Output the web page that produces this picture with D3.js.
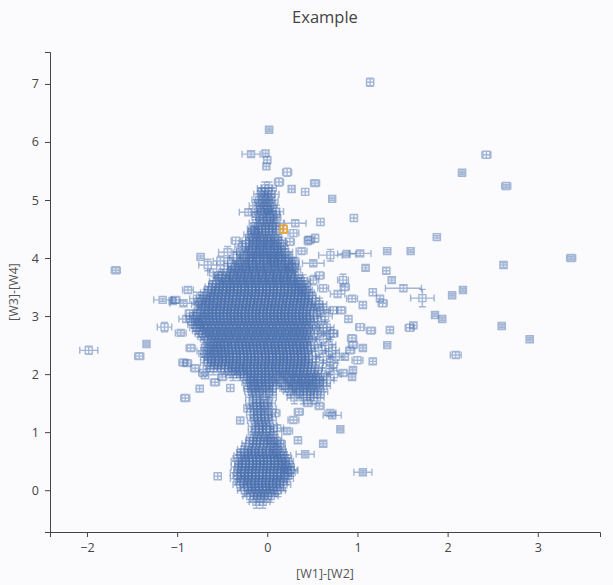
<!DOCTYPE html>
<html><head><meta charset="utf-8">
<script src="https://cdn.jsdelivr.net/npm/d3@7"></script>
<style>
body{margin:0;background:#fbfbfd;}
svg{display:block;font-family:"Open Sans","Noto Sans",sans-serif;}
</style>
</head><body><svg id="c" width="613" height="585"></svg>
<script>
const titleText = "Example";
const xLabel = "[W1]-[W2]";
const yLabel = "[W3]-[W4]";
const xTicks = [-2, -1, 0, 1, 2, 3];
const yTicks = [0, 1, 2, 3, 4, 5, 6, 7];

// dense region: rows of [y, [x values]] with a shared typical error [ex, ey]
const coreErr = [0.08, 0.11];
const coreRows = [
 [5.2, [-0.03, 0.02]],
 [5.1, [-0.07, 0.0, 0.05]],
 [5.0, [-0.09, -0.02, 0.04]],
 [4.9, [-0.12, -0.04, 0.03]],
 [4.8, [-0.1, -0.03, 0.05, 0.1]],
 [4.7, [-0.09, -0.01, 0.07]],
 [4.6, [-0.12, -0.04, 0.04, 0.1]],
 [4.5, [-0.14, -0.06, 0.02, 0.09]],
 [4.4, [-0.18, -0.1, -0.02, 0.06]],
 [4.3, [-0.2, -0.12, -0.04, 0.04, 0.12]],
 [4.2, [-0.2, -0.12, -0.04, 0.04, 0.12]],
 [4.1, [-0.3, -0.2, -0.12, -0.04, 0.04, 0.12, 0.2]],
 [4.0, [-0.34, -0.24, -0.16, -0.08, 0.0, 0.08, 0.16, 0.24]],
 [3.9, [-0.4, -0.3, -0.21, -0.13, -0.05, 0.03, 0.11, 0.19, 0.27]],
 [3.8, [-0.44, -0.35, -0.27, -0.19, -0.11, -0.03, 0.05, 0.13, 0.21, 0.29]],
 [3.7, [-0.5, -0.41, -0.33, -0.25, -0.17, -0.09, -0.01, 0.07, 0.15, 0.23, 0.31]],
 [3.6, [-0.56, -0.47, -0.39, -0.31, -0.23, -0.15, -0.07, 0.01, 0.09, 0.17, 0.25, 0.33, 0.4]],
 [3.5, [-0.61, -0.53, -0.45, -0.37, -0.29, -0.21, -0.13, -0.05, 0.03, 0.11, 0.19, 0.27, 0.34, 0.4]],
 [3.4, [-0.66, -0.58, -0.5, -0.41, -0.33, -0.25, -0.17, -0.09, -0.01, 0.07, 0.15, 0.23, 0.31, 0.38, 0.44]],
 [3.3, [-0.78, -0.71, -0.63, -0.55, -0.46, -0.38, -0.3, -0.22, -0.14, -0.06, 0.02, 0.1, 0.18, 0.26, 0.34, 0.42, 0.5]],
 [3.2, [-0.76, -0.68, -0.6, -0.51, -0.43, -0.35, -0.27, -0.19, -0.11, -0.03, 0.05, 0.13, 0.21, 0.29, 0.37, 0.45, 0.53, 0.58]],
 [3.1, [-0.73, -0.65, -0.56, -0.48, -0.4, -0.32, -0.24, -0.16, -0.08, 0.0, 0.08, 0.16, 0.24, 0.32, 0.4, 0.48, 0.55, 0.62]],
 [3.0, [-0.78, -0.7, -0.61, -0.53, -0.45, -0.37, -0.29, -0.21, -0.13, -0.05, 0.03, 0.11, 0.19, 0.27, 0.35, 0.43, 0.51, 0.64]],
 [2.9, [-0.8, -0.72, -0.64, -0.56, -0.48, -0.4, -0.32, -0.24, -0.16, -0.08, 0.0, 0.08, 0.16, 0.24, 0.32, 0.4, 0.48, 0.56]],
 [2.8, [-0.78, -0.7, -0.62, -0.54, -0.46, -0.38, -0.3, -0.22, -0.14, -0.06, 0.02, 0.1, 0.18, 0.26, 0.34, 0.42, 0.58, 0.66]],
 [2.7, [-0.72, -0.64, -0.56, -0.48, -0.4, -0.32, -0.24, -0.16, -0.08, 0.0, 0.08, 0.16, 0.24, 0.32, 0.4, 0.48, 0.56, 0.7]],
 [2.6, [-0.66, -0.58, -0.5, -0.42, -0.34, -0.26, -0.18, -0.1, -0.02, 0.06, 0.14, 0.22, 0.3, 0.38, 0.46, 0.62]],
 [2.5, [-0.6, -0.52, -0.44, -0.36, -0.28, -0.2, -0.12, -0.04, 0.04, 0.12, 0.2, 0.28, 0.36, 0.44, 0.52, 0.68]],
 [2.4, [-0.7, -0.63, -0.55, -0.47, -0.39, -0.31, -0.23, -0.15, -0.07, 0.01, 0.09, 0.17, 0.25, 0.33, 0.41, 0.57, 0.72]],
 [2.3, [-0.66, -0.58, -0.5, -0.42, -0.34, -0.26, -0.18, -0.1, -0.02, 0.06, 0.14, 0.22, 0.3, 0.38, 0.46, 0.62, 0.76]],
 [2.2, [-0.66, -0.58, -0.5, -0.42, -0.34, -0.26, -0.18, -0.1, -0.02, 0.06, 0.14, 0.22, 0.3, 0.38, 0.46, 0.54, 0.7]],
 [2.1, [-0.6, -0.51, -0.43, -0.35, -0.27, -0.19, -0.11, -0.03, 0.05, 0.13, 0.21, 0.29, 0.37, 0.45, 0.53, 0.69]],
 [2.0, [-0.38, -0.3, -0.22, -0.14, -0.06, 0.02, 0.1, 0.2, 0.28, 0.36, 0.44, 0.52, 0.6, 0.74]],
 [1.9, [-0.19, -0.11, -0.03, 0.06, 0.16, 0.26, 0.34, 0.42, 0.5, 0.58, 0.66]],
 [1.8, [-0.18, -0.1, -0.02, 0.06, 0.2, 0.3, 0.38, 0.46, 0.54, 0.62]],
 [1.7, [-0.17, -0.09, 0.02, 0.26, 0.36, 0.44, 0.52, 0.59]],
 [1.6, [-0.16, -0.08, 0.02, 0.3, 0.4, 0.48, 0.55]],
 [1.5, [-0.16, -0.08, 0.01]],
 [1.4, [-0.15, -0.07, 0.02]],
 [1.3, [-0.15, -0.07, 0.01]],
 [1.2, [-0.14, -0.06, 0.02]],
 [1.1, [-0.13, -0.05, 0.03]],
 [1.0, [-0.13, -0.05, 0.03]],
 [0.9, [-0.15, -0.07, 0.02, 0.08]],
 [0.8, [-0.2, -0.12, -0.04, 0.04, 0.1]],
 [0.7, [-0.25, -0.17, -0.09, -0.01, 0.07, 0.12]],
 [0.6, [-0.29, -0.21, -0.13, -0.05, 0.03, 0.11, 0.18]],
 [0.5, [-0.32, -0.24, -0.16, -0.08, 0.0, 0.08, 0.16, 0.21]],
 [0.4, [-0.32, -0.24, -0.16, -0.08, 0.0, 0.08, 0.16, 0.22]],
 [0.3, [-0.33, -0.25, -0.17, -0.09, -0.01, 0.07, 0.15, 0.23]],
 [0.2, [-0.33, -0.25, -0.17, -0.09, -0.01, 0.07, 0.15, 0.21]],
 [0.1, [-0.3, -0.22, -0.14, -0.06, 0.02, 0.1, 0.18]],
 [0.0, [-0.25, -0.17, -0.09, -0.01, 0.07, 0.12]],
 [-0.1, [-0.19, -0.11, -0.03, 0.04]],
 [-0.2, [-0.12, -0.05]]
];
// dense region, second pass between the rows above
const coreRowsMid = [
 [4.95, [-0.06, 0.01]],
 [4.75, [-0.08, 0.0, 0.06]],
 [4.55, [-0.1, -0.02, 0.06]],
 [4.35, [-0.16, -0.08, 0.0, 0.08]],
 [4.25, [-0.2, -0.1, -0.02, 0.06, 0.14]],
 [4.15, [-0.17, -0.09, -0.01, 0.07, 0.15]],
 [4.05, [-0.22, -0.14, -0.06, 0.02, 0.1, 0.18]],
 [3.95, [-0.3, -0.2, -0.12, -0.04, 0.04, 0.12, 0.2]],
 [3.85, [-0.36, -0.28, -0.2, -0.12, -0.04, 0.04, 0.12, 0.2, 0.27]],
 [3.75, [-0.41, -0.33, -0.25, -0.17, -0.09, -0.01, 0.07, 0.15, 0.23]],
 [3.65, [-0.5, -0.42, -0.34, -0.26, -0.18, -0.1, -0.02, 0.06, 0.14, 0.22, 0.3]],
 [3.55, [-0.57, -0.49, -0.41, -0.33, -0.25, -0.17, -0.09, -0.01, 0.07, 0.15, 0.23, 0.31, 0.38]],
 [3.45, [-0.62, -0.54, -0.46, -0.37, -0.29, -0.21, -0.13, -0.05, 0.03, 0.11, 0.19, 0.27, 0.35, 0.42]],
 [3.35, [-0.68, -0.6, -0.51, -0.42, -0.34, -0.26, -0.18, -0.1, -0.02, 0.06, 0.14, 0.22, 0.3, 0.38, 0.46]],
 [3.25, [-0.73, -0.65, -0.56, -0.47, -0.39, -0.31, -0.23, -0.15, -0.07, 0.01, 0.09, 0.17, 0.25, 0.33, 0.41]],
 [3.15, [-0.7, -0.61, -0.52, -0.44, -0.36, -0.28, -0.2, -0.12, -0.04, 0.04, 0.12, 0.2, 0.28, 0.36, 0.44]],
 [3.05, [-0.75, -0.66, -0.57, -0.49, -0.41, -0.33, -0.25, -0.17, -0.09, -0.01, 0.07, 0.15, 0.23, 0.31, 0.39]],
 [2.95, [-0.82, -0.76, -0.68, -0.6, -0.52, -0.44, -0.36, -0.28, -0.2, -0.12, -0.04, 0.04, 0.12, 0.2, 0.28, 0.36, 0.44]],
 [2.85, [-0.8, -0.74, -0.66, -0.58, -0.5, -0.42, -0.34, -0.26, -0.18, -0.1, -0.02, 0.06, 0.14, 0.22, 0.3, 0.38, 0.46]],
 [2.75, [-0.75, -0.68, -0.6, -0.52, -0.44, -0.36, -0.28, -0.2, -0.12, -0.04, 0.04, 0.12, 0.2, 0.28, 0.36, 0.44]],
 [2.65, [-0.69, -0.62, -0.54, -0.46, -0.38, -0.3, -0.22, -0.14, -0.06, 0.02, 0.1, 0.18, 0.26, 0.34, 0.42]],
 [2.55, [-0.63, -0.56, -0.48, -0.4, -0.32, -0.24, -0.16, -0.08, 0.0, 0.08, 0.16, 0.24, 0.32, 0.4]],
 [2.45, [-0.65, -0.58, -0.51, -0.43, -0.35, -0.27, -0.19, -0.11, -0.03, 0.05, 0.13, 0.21, 0.29, 0.37, 0.45]],
 [2.35, [-0.68, -0.6, -0.52, -0.46, -0.38, -0.3, -0.22, -0.14, -0.06, 0.02, 0.1, 0.18, 0.26, 0.34, 0.42]],
 [2.25, [-0.62, -0.54, -0.46, -0.38, -0.3, -0.22, -0.14, -0.06, 0.02, 0.1, 0.18, 0.26, 0.34, 0.42]],
 [2.15, [-0.63, -0.55, -0.47, -0.39, -0.31, -0.23, -0.15, -0.07, 0.01, 0.09, 0.17, 0.25, 0.33, 0.41]],
 [2.05, [-0.4, -0.32, -0.26, -0.18, -0.1, -0.02, 0.06, 0.14, 0.24, 0.32, 0.4]],
 [1.95, [-0.22, -0.15, -0.07, 0.02, 0.12, 0.22, 0.3, 0.38, 0.46, 0.54]],
 [1.85, [-0.2, -0.14, -0.06, 0.03, 0.18, 0.28, 0.36, 0.44, 0.52]],
 [1.75, [-0.18, -0.12, -0.04, 0.06, 0.24, 0.32, 0.4, 0.48]],
 [1.45, [-0.12, -0.04]],
 [1.25, [-0.11, -0.03]],
 [1.05, [-0.1, -0.01]],
 [0.85, [-0.16, -0.08, 0.0, 0.07]],
 [0.65, [-0.26, -0.18, -0.1, -0.02, 0.06, 0.13]],
 [0.55, [-0.3, -0.2, -0.12, -0.04, 0.04, 0.12, 0.19]],
 [0.45, [-0.28, -0.2, -0.12, -0.04, 0.04, 0.12, 0.2]],
 [0.35, [-0.29, -0.21, -0.13, -0.05, 0.03, 0.11, 0.19, 0.26]],
 [0.25, [-0.3, -0.21, -0.13, -0.05, 0.03, 0.11, 0.19]],
 [0.15, [-0.27, -0.18, -0.1, -0.02, 0.06, 0.14]],
 [0.05, [-0.22, -0.13, -0.05, 0.03, 0.1]],
 [-0.05, [-0.15, -0.07, 0.01]]
];

// individual sources: [x, y, xErr, yErr]
const scatterPts = [
 [1.14, 7.03, 0.04, 0.07], [0.02, 6.21, 0.04, 0.03], [-0.18, 5.79, 0.1, 0.04],
 [-0.02, 5.80, 0.03, 0.06], [0.00, 5.69, 0.04, 0.06], [-0.01, 5.58, 0.03, 0.06],
 [0.22, 5.48, 0.05, 0.07], [0.13, 5.31, 0.05, 0.07], [0.27, 5.19, 0.03, 0.06],
 [0.42, 5.14, 0.04, 0.06], [0.53, 5.29, 0.05, 0.04], [0.72, 5.02, 0.03, 0.03],
 [0.96, 4.69, 0.04, 0.06], [-0.06, 5.14, 0.04, 0.06], [0.0, 4.83, 0.04, 0.06],
 [-0.21, 4.79, 0.1, 0.05], [-0.15, 4.48, 0.06, 0.06], [0.31, 4.60, 0.12, 0.05],
 [0.59, 4.62, 0.04, 0.06], [0.25, 4.28, 0.05, 0.06], [0.53, 4.34, 0.04, 0.07],
 [0.45, 4.30, 0.04, 0.07], [0.70, 4.05, 0.13, 0.1], [0.88, 4.07, 0.1, 0.03],
 [1.03, 4.08, 0.12, 0.04], [1.33, 4.12, 0.04, 0.03], [1.59, 4.12, 0.03, 0.03],
 [1.88, 4.36, 0.04, 0.03], [2.16, 5.47, 0.04, 0.03], [2.43, 5.78, 0.05, 0.06],
 [2.65, 5.24, 0.05, 0.03], [3.37, 4.00, 0.05, 0.03], [2.62, 3.88, 0.04, 0.04],
 [2.17, 3.45, 0.03, 0.03], [2.05, 3.36, 0.04, 0.03], [1.94, 2.95, 0.04, 0.03],
 [1.86, 3.02, 0.03, 0.03], [2.60, 2.83, 0.04, 0.03], [2.91, 2.60, 0.04, 0.03],
 [2.09, 2.33, 0.06, 0.05], [1.62, 2.84, 0.04, 0.05], [1.58, 2.80, 0.05, 0.06],
 [1.72, 3.31, 0.13, 0.15], [1.51, 3.48, 0.2, 0.05], [1.38, 3.62, 0.04, 0.04],
 [1.32, 3.78, 0.04, 0.05], [1.09, 3.83, 0.04, 0.04], [1.17, 3.41, 0.04, 0.06],
 [1.28, 3.22, 0.05, 0.06], [1.25, 3.30, 0.04, 0.05], [1.06, 3.19, 0.04, 0.05],
 [0.94, 3.30, 0.06, 0.05], [1.36, 2.76, 0.04, 0.05], [1.33, 2.50, 0.03, 0.03],
 [1.17, 2.22, 0.04, 0.05], [1.03, 2.81, 0.05, 0.06], [1.15, 2.75, 0.05, 0.05],
 [0.94, 2.62, 0.05, 0.05], [1.06, 2.45, 0.04, 0.04], [0.86, 2.30, 0.04, 0.05],
 [1.00, 2.24, 0.06, 0.06], [0.94, 1.95, 0.04, 0.04], [0.95, 2.07, 0.04, 0.04],
 [0.72, 1.29, 0.1, 0.05], [0.81, 1.05, 0.03, 0.03], [0.34, 0.86, 0.04, 0.05],
 [0.42, 0.62, 0.1, 0.03], [1.06, 0.31, 0.1, 0.03], [0.25, 0.34, 0.08, 0.05],
 [-0.55, 0.24, 0.04, 0.06], [0.29, 1.21, 0.06, 0.05], [0.09, 1.33, 0.05, 0.06],
 [0.11, 1.07, 0.07, 0.05], [0.22, 1.02, 0.06, 0.04], [0.15, 0.80, 0.05, 0.06],
 [-0.41, 1.76, 0.04, 0.06], [-0.69, 1.98, 0.04, 0.06], [-0.58, 1.86, 0.05, 0.05],
 [-0.22, 1.41, 0.04, 0.06], [-0.30, 1.20, 0.04, 0.05], [-1.68, 3.79, 0.05, 0.04],
 [-1.98, 2.41, 0.1, 0.07], [-1.42, 2.31, 0.05, 0.05], [-1.34, 2.52, 0.03, 0.03],
 [-1.14, 2.81, 0.08, 0.08], [-1.16, 3.28, 0.1, 0.03], [-1.05, 3.26, 0.04, 0.04],
 [-0.91, 1.59, 0.05, 0.05], [-0.74, 4.02, 0.04, 0.03], [-0.66, 3.88, 0.1, 0.1],
 [-0.44, 4.10, 0.1, 0.1], [-0.55, 3.70, 0.04, 0.06], [-0.93, 3.22, 0.15, 0.04],
 [-0.96, 2.71, 0.06, 0.04], [-0.93, 2.20, 0.05, 0.05], [-0.85, 2.45, 0.05, 0.05],
 [-0.75, 1.75, 0.04, 0.05], [0.51, 3.91, 0.12, 0.04], [0.84, 3.62, 0.06, 0.1],
 [0.86, 3.50, 0.05, 0.05], [0.78, 3.38, 0.08, 0.05], [0.90, 2.95, 0.04, 0.05],
 [0.82, 3.10, 0.05, 0.05], [0.95, 2.50, 0.05, 0.05], [0.62, 0.80, 0.04, 0.04],
 [0.45, 1.50, 0.05, 0.05], [0.58, 1.45, 0.05, 0.05], [0.35, 1.35, 0.05, 0.05],
 [-0.88, 3.45, 0.06, 0.05], [-0.9, 2.95, 0.08, 0.05], [-0.86, 3.05, 0.05, 0.05],
 [-0.8, 2.1, 0.05, 0.05], [-0.5, 1.95, 0.05, 0.05], [-0.35, 4.3, 0.05, 0.06],
 [0.3, 3.95, 0.05, 0.05], [0.38, 4.12, 0.06, 0.05], [0.58, 3.7, 0.05, 0.06],
 [-0.13, 4.43, 0.08, 0.1], [-0.28, 4.19, 0.08, 0.1], [0.07, 3.93, 0.06, 0.08],
 [0.28, 3.83, 0.06, 0.08], [0.29, 4.43, 0.06, 0.06], [0.47, 4.31, 0.05, 0.06],
 [0.51, 3.62, 0.06, 0.08], [0.62, 3.48, 0.06, 0.06], [0.73, 3.10, 0.05, 0.06],
 [0.73, 2.70, 0.05, 0.06], [0.92, 2.41, 0.05, 0.05], [0.84, 2.02, 0.05, 0.05],
 [0.70, 1.33, 0.06, 0.05], [-0.71, 2.02, 0.05, 0.06], [-0.89, 2.19, 0.05, 0.05],
 [-1.02, 3.28, 0.05, 0.05], [-0.52, 3.95, 0.08, 0.08], [-0.6, 3.75, 0.06, 0.06]
];
const highlightPts = [[0.18, 4.50, 0.04, 0.07]];

const svg = d3.select("#c");
const x = d3.scaleLinear().domain([-2.41, 3.69]).range([50, 600]);
const y = d3.scaleLinear().domain([-0.72, 7.55]).range([532, 52]);

const corePts = [];
coreRows.concat(coreRowsMid).forEach(([yy, xs]) =>
  xs.forEach(xx => corePts.push([xx, yy, coreErr[0], coreErr[1]])));

const S = 3.5, C = 3.5;
function markPath(d) {
  const px = x(d[0]), py = y(d[1]);
  const x0 = x(d[0] - d[2]), x1 = x(d[0] + d[2]);
  const y0 = y(d[1] - d[3]), y1 = y(d[1] + d[3]);
  const p = d3.path();
  p.moveTo(x0, py); p.lineTo(x1, py);
  p.moveTo(x0, py - C); p.lineTo(x0, py + C);
  p.moveTo(x1, py - C); p.lineTo(x1, py + C);
  p.moveTo(px, y0); p.lineTo(px, y1);
  p.moveTo(px - C, y0); p.lineTo(px + C, y0);
  p.moveTo(px - C, y1); p.lineTo(px + C, y1);
  p.rect(px - S, py - S, 2 * S, 2 * S);
  return p.toString();
}

const gPts = svg.append("g");
gPts.selectAll("path.pt").data(corePts.concat(scatterPts)).join("path")
  .attr("class", "pt").attr("d", markPath)
  .attr("fill", "none").attr("stroke", "#4c72b0").attr("stroke-opacity", 0.5).attr("stroke-width", 1.4);
gPts.selectAll("path.hl").data(highlightPts).join("path")
  .attr("class", "hl").attr("d", markPath)
  .attr("fill", "none").attr("stroke", "#e3a238").attr("stroke-opacity", 0.95).attr("stroke-width", 1.6);

const fmt = d3.format("d");
const xAxis = svg.append("g").attr("transform", "translate(0,532)")
  .call(d3.axisBottom(x).tickValues(xTicks).tickFormat(fmt).tickSizeOuter(0).tickSize(5).tickPadding(6));
const yAxis = svg.append("g").attr("transform", "translate(50,0)")
  .call(d3.axisLeft(y).tickValues(yTicks).tickFormat(fmt).tickSizeOuter(0).tickSize(5).tickPadding(6));
[xAxis, yAxis].forEach(g => {
  g.select(".domain").attr("stroke", "#444");
  g.selectAll(".tick line").attr("stroke", "#444");
  g.selectAll(".tick text").attr("fill", "#444").attr("font-size", 12.5)
    .attr("font-family", '"Open Sans","Noto Sans",sans-serif');
});

svg.append("text").attr("x", 325).attr("y", 23).attr("text-anchor", "middle")
  .attr("font-size", 16.5).attr("fill", "#444").text(titleText);
svg.append("text").attr("x", 325).attr("y", 578).attr("text-anchor", "middle")
  .attr("font-size", 12.5).attr("fill", "#555").text(xLabel);
svg.append("text").attr("transform", "translate(18,292) rotate(-90)").attr("text-anchor", "middle")
  .attr("font-size", 12.5).attr("fill", "#555").text(yLabel);
</script>
</body></html>
